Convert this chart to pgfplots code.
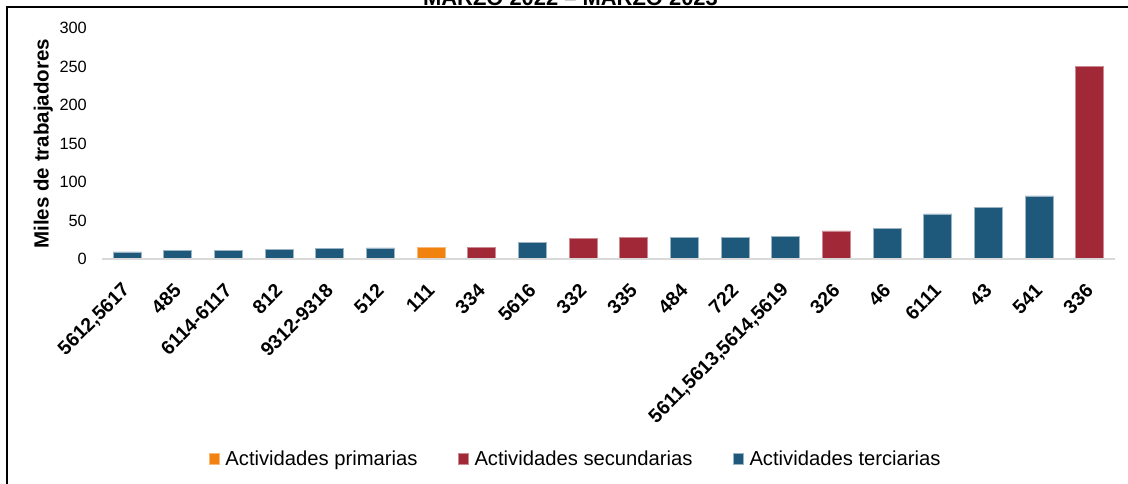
\documentclass[border=0pt]{standalone}
\usepackage{pgfplots}
\pgfplotsset{compat=1.18}
\usepackage{fontspec}
\setmainfont{Liberation Sans}
\definecolor{cprim}{RGB}{242,130,16}
\definecolor{csec}{RGB}{161,40,55}
\definecolor{cter}{RGB}{30,89,124}
\definecolor{caxis}{RGB}{217,217,217}
\begin{document}
\begin{tikzpicture}[x=1bp,y=1bp]
\useasboundingbox (0,0) rectangle (1128,484);
\draw[line width=1.8bp] (6.8,-20) -- (6.8,476.6) -- (1150,476.6);
\node[font=\bfseries\fontsize{22}{26}\selectfont, anchor=base, inner sep=0pt] at (570.5,478.3) {MARZO 2022 – MARZO 2023};
\begin{axis}[
  at={(101.7bp,224.7bp)}, anchor=south west,
  scale only axis, width=1013.4bp, height=231.3bp,
  xmin=-0.5, xmax=19.5, ymin=0, ymax=300,
  ybar, bar width=28bp, bar shift=0pt,
  axis x line=bottom, axis y line=left,
  x axis line style={draw=caxis, line width=2bp, -},
  y axis line style={draw=none, -},
  axis on top,
  major tick length=0pt,
  xtick={0,...,19},
  xticklabels={{5612,5617},485,6114-6117,812,9312-9318,512,111,334,5616,332,335,484,722,{5611,5613,5614,5619},326,46,6111,43,541,336},
  xticklabel style={rotate=45, anchor=east, inner sep=0pt, font=\bfseries\fontsize{19.5}{23}\selectfont},
  xticklabel shift=28bp,
  ytick={0,50,...,300},
  yticklabel style={anchor=east, inner sep=0pt, xshift=-14.7bp, font=\fontsize{16.4}{19}\selectfont},
  /pgf/number format/assume math mode=true,
  ylabel={Miles de trabajadores},
  every axis y label/.style={at={(axis description cs:-0.0576,0.5)}, rotate=90, anchor=center, font=\bfseries\fontsize{20.6}{24}\selectfont},
  legend style={at={(0.4666,-0.8634)}, anchor=center, draw=none, fill=none, inner sep=0pt,
    legend columns=3, font=\fontsize{20.3}{24}\selectfont,
    /tikz/every even column/.append style={column sep=40bp},
    /tikz/every odd column/.append style={column sep=0bp},
    nodes={inner xsep=0pt, inner ysep=2bp}},
  legend image code/.code={\fill[#1] (0bp,-5.2bp) rectangle (10.5bp,5.2bp);},
]
\addplot[fill=cprim, draw=cprim!55!white, line width=0.7bp] coordinates {(6,16.0)};
\addplot[fill=csec, draw=csec!55!white, line width=0.7bp] coordinates {(7,15.6) (9,27.3) (10,28.6) (14,36.8) (19,249.7)};
\addplot[fill=cter, draw=cter!45!white, line width=0.7bp] coordinates {(0,9.5) (1,11.2) (2,11.2) (3,12.5) (4,13.8) (5,14.7) (8,21.6) (11,28.6) (12,28.6) (13,29.6) (15,40.3) (16,58.8) (17,67.1) (18,82.2)};
\legend{\hspace{5.7bp}Actividades primarias,\hspace{5.7bp}Actividades secundarias,\hspace{5.7bp}Actividades terciarias}
\end{axis}
\end{tikzpicture}
\end{document}
